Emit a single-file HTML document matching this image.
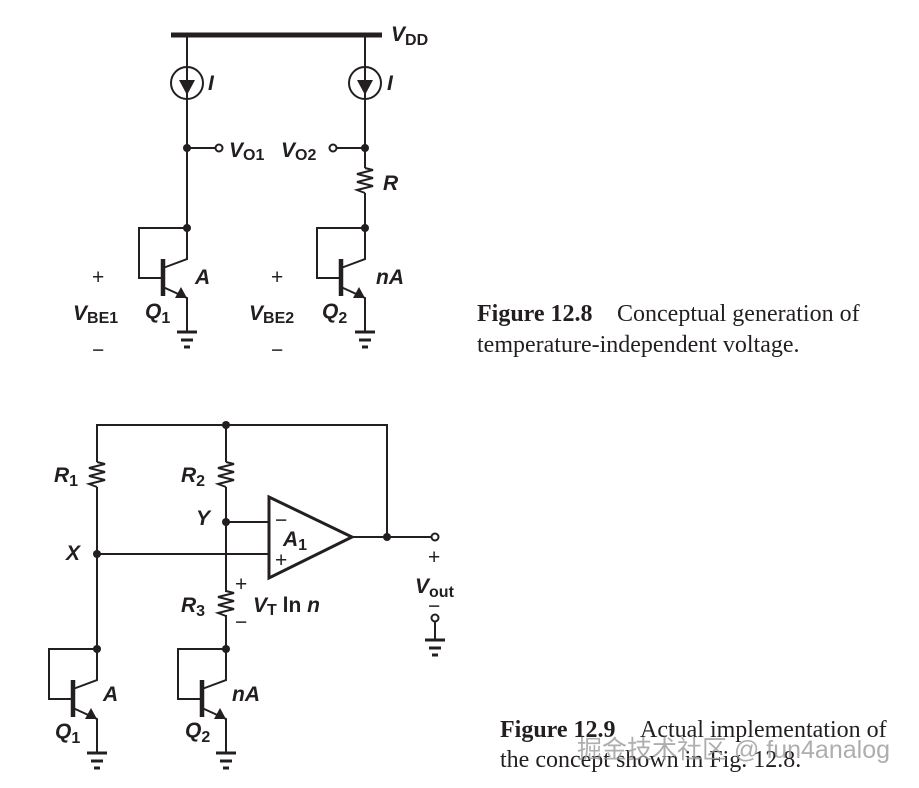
<!DOCTYPE html>
<html><head><meta charset="utf-8"><style>
html,body{margin:0;padding:0;background:#fff;}
svg{display:block;}
.l{font-family:"Liberation Sans",sans-serif;font-weight:bold;font-style:italic;font-size:21px;fill:#231f20;}
.s{font-size:16px;font-style:normal;}
.p{font-family:"Liberation Sans",sans-serif;font-size:21px;fill:#231f20;}
.c{font-family:"Liberation Serif",serif;font-size:24px;fill:#231f20;}
</style></head><body>
<svg width="919" height="788" viewBox="0 0 919 788" xmlns="http://www.w3.org/2000/svg">
<defs>
<g id="tr" stroke="#231f20" fill="none" stroke-width="2">
  <path d="M0 0 V31 L-24 40 M0 0 H-48 V50 H-24"/>
  <line x1="-24" y1="31" x2="-24" y2="68" stroke-width="4.5"/>
  <path d="M-24 59 L0 70 V104"/>
  <polygon points="0,70 -12,70 -6,59" fill="#231f20" stroke="none"/>
  <circle cx="0" cy="0" r="4" fill="#231f20" stroke="none"/>
  <line x1="-10" y1="104" x2="10" y2="104" stroke-width="3"/>
  <line x1="-6" y1="112" x2="6" y2="112" stroke-width="3"/>
  <line x1="-3" y1="119" x2="3" y2="119" stroke-width="3"/>
</g>
<g id="cs" stroke="#231f20" fill="none" stroke-width="2">
  <circle cx="0" cy="0" r="16"/>
  <line x1="0" y1="-13" x2="0" y2="0"/>
  <polygon points="-8,-3 8,-3 0,12" fill="#231f20" stroke="none"/>
</g>
<g id="res" stroke="#231f20" fill="none" stroke-width="2">
  <path d="M0 0 L8 2 L-8 6 L8 10 L-8 14 L8 18 L-8 22 L0 25"/>
</g>
<g id="gnd" stroke="#231f20" stroke-width="3">
  <line x1="-10" y1="0" x2="10" y2="0"/>
  <line x1="-6" y1="8" x2="6" y2="8"/>
  <line x1="-3" y1="15" x2="3" y2="15"/>
</g>
</defs>
<g stroke="#231f20" fill="none" stroke-width="2">
<line x1="171" y1="35" x2="382" y2="35" stroke-width="5"/>
<line x1="187" y1="35" x2="187" y2="228"/>
<line x1="365" y1="35" x2="365" y2="168"/>
<line x1="365" y1="193" x2="365" y2="228"/>
<line x1="187" y1="148" x2="216" y2="148"/>
<circle cx="219" cy="148" r="3.5" fill="#fff"/>
<line x1="336" y1="148" x2="365" y2="148"/>
<circle cx="333" cy="148" r="3.5" fill="#fff"/>
<path d="M97 462 V425 H387 V537"/>
<line x1="97" y1="487" x2="97" y2="649"/>
<line x1="226" y1="425" x2="226" y2="462"/>
<line x1="226" y1="487" x2="226" y2="592"/>
<line x1="226" y1="615" x2="226" y2="649"/>
<line x1="226" y1="522" x2="269" y2="522"/>
<line x1="97" y1="554" x2="269" y2="554"/>
<polygon points="269,497 269,578 352,537" stroke-width="3" fill="#fff"/>
<line x1="352" y1="537" x2="432" y2="537"/>
<circle cx="435" cy="537" r="3.5" fill="#fff"/>
<circle cx="435" cy="618" r="3.5" fill="#fff"/>
<line x1="435" y1="622" x2="435" y2="640"/>
</g>
<g fill="#231f20">
<circle cx="187" cy="148" r="4"/><circle cx="365" cy="148" r="4"/>
<circle cx="226" cy="425" r="4"/><circle cx="226" cy="522" r="4"/>
<circle cx="97" cy="554" r="4"/><circle cx="387" cy="537" r="4"/>
</g>
<use href="#cs" x="187" y="83"/><use href="#cs" x="365" y="83"/>
<use href="#res" x="365" y="168"/>
<use href="#res" x="97" y="462"/><use href="#res" x="226" y="462"/><use href="#res" x="226" y="591"/>
<use href="#tr" x="187" y="228"/><use href="#tr" x="365" y="228"/>
<use href="#tr" x="97" y="649"/><use href="#tr" x="226" y="649"/>
<use href="#gnd" x="435" y="640"/>
<text class="l" x="391" y="41">V<tspan class="s" font-style="italic" dy="4">DD</tspan></text>
<text class="l" x="208" y="90">I</text><text class="l" x="387" y="90">I</text>
<text class="l" x="229" y="157">V<tspan class="s" dy="3">O1</tspan></text>
<text class="l" x="281" y="157">V<tspan class="s" dy="3">O2</tspan></text>
<text class="l" x="383" y="190">R</text>
<text class="l" x="195" y="284">A</text>
<text class="l" x="376" y="284">nA</text>
<text class="p" x="92" y="284">+</text><text class="p" x="271" y="284">+</text>
<text class="p" x="92" y="357">−</text><text class="p" x="271" y="357">−</text>
<text class="l" x="73" y="320">V<tspan class="s" dy="3">BE1</tspan></text>
<text class="l" x="249" y="320">V<tspan class="s" dy="3">BE2</tspan></text>
<text class="l" x="145" y="318">Q<tspan class="s" dy="5">1</tspan></text>
<text class="l" x="322" y="318">Q<tspan class="s" dy="5">2</tspan></text>
<text class="l" x="54" y="482">R<tspan class="s" dy="4">1</tspan></text>
<text class="l" x="181" y="482">R<tspan class="s" dy="4">2</tspan></text>
<text class="l" x="181" y="612">R<tspan class="s" dy="4">3</tspan></text>
<text class="l" x="196" y="525">Y</text>
<text class="l" x="66" y="560">X</text>
<text class="l" x="283" y="546">A<tspan class="s" dy="4">1</tspan></text>
<text class="p" x="275" y="527">−</text><text class="p" x="275" y="567">+</text>
<text class="p" x="235" y="591">+</text><text class="p" x="235" y="629">−</text>
<text class="l" x="253" y="612">V<tspan class="s" dy="3">T</tspan><tspan dy="-3" font-style="normal"> ln </tspan>n</text>
<text class="p" x="428" y="564" font-size="18">+</text>
<text class="l" x="415" y="593">V<tspan class="s" dy="4">out</tspan></text>
<text class="p" x="428" y="613" font-size="18">−</text>
<text class="l" x="103" y="701">A</text><text class="l" x="232" y="701">nA</text>
<text class="l" x="55" y="738">Q<tspan class="s" dy="5">1</tspan></text>
<text class="l" x="185" y="737">Q<tspan class="s" dy="5">2</tspan></text>
<text class="c" x="477" y="321"><tspan font-weight="bold">Figure 12.8</tspan><tspan x="617">Conceptual generation of</tspan></text>
<text class="c" x="477" y="352">temperature-independent voltage.</text>
<text class="c" x="500" y="737"><tspan font-weight="bold">Figure 12.9</tspan><tspan x="640">Actual implementation of</tspan></text>
<text class="c" x="500" y="767">the concept shown in Fig. 12.8.</text>
<text x="577" y="758" font-family="Liberation Sans,'Noto Sans CJK SC',sans-serif" font-size="25" fill="#9a9a9a" fill-opacity="0.8">掘金技术社区 @ fun4analog</text>
</svg>
</body></html>
